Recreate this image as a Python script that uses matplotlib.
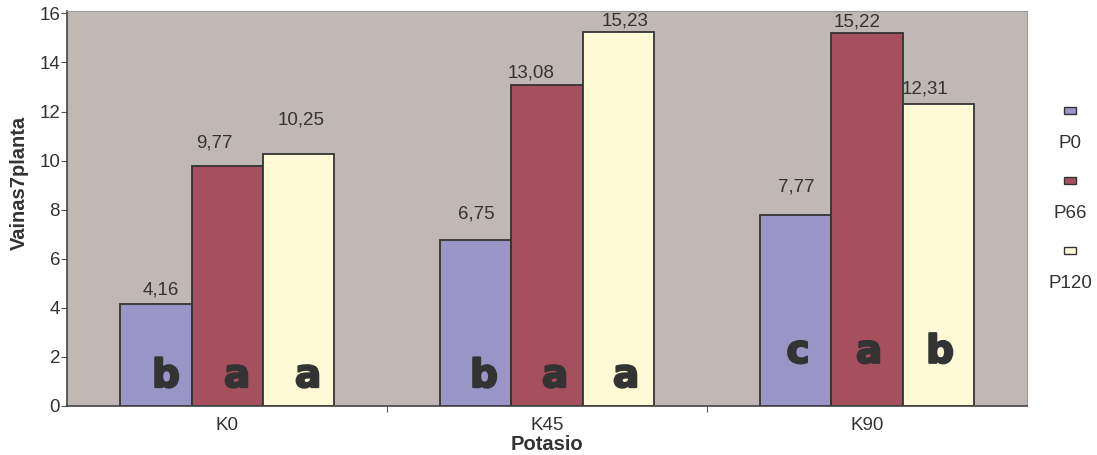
import matplotlib.pyplot as plt
import matplotlib.patheffects as pe
from matplotlib.patches import Rectangle
import numpy as np

plt.rcParams['font.family'] = ['Liberation Sans', 'DejaVu Sans']

# Vainas por planta según dosis de potasio y fósforo
potasio = ['K0', 'K45', 'K90']
series = ['P0', 'P66', 'P120']
p0 = [4.16, 6.75, 7.77]
p66 = [9.77, 13.08, 15.22]
p120 = [10.25, 15.23, 12.31]
valores = [p0, p66, p120]
etiquetas = [['4,16', '6,75', '7,77'],
             ['9,77', '13,08', '15,22'],
             ['10,25', '15,23', '12,31']]
# letras de comparación de medias (Tukey)
letras = [['b', 'b', 'c'],
          ['a', 'a', 'a'],
          ['a', 'a', 'b']]

colores = ['#9A95C7', '#A6505F', '#FFF9D5']
fondo = '#C0B8B5'
borde = '#333333'

# desplazamientos de las etiquetas (pixeles) respecto a la parte superior de la barra
lab_dx = [[5, 0, 0], [-13, -16, -10], [3, 7, -13]]
lab_dy = [[14, 26, 28], [23, 12, 11], [34, 11, 15]]
letra_y = [0.76, 0.76, 1.75]
letra_dx = [10, 8, 2]

fig = plt.figure(figsize=(10.97, 4.55), dpi=100)
ax = fig.add_axes([0.0611, 0.1084, 0.8751, 0.8674])
ax.set_facecolor(fondo)

x = np.arange(len(potasio))
w = 0.222
for i, (vals, col) in enumerate(zip(valores, colores)):
    pos = x + (i - 1) * w
    ax.bar(pos, vals, width=w, color=col, edgecolor=borde, linewidth=1.3, zorder=2)
    for j in range(len(potasio)):
        ax.annotate(etiquetas[i][j], (pos[j], vals[j]),
                    xytext=(lab_dx[i][j], lab_dy[i][j]), textcoords='offset pixels',
                    ha='center', va='center', fontsize=13.5, color='#333333', zorder=3)
        ax.annotate(letras[i][j], (pos[j], letra_y[j]),
                    xytext=(letra_dx[j], 0), textcoords='offset pixels',
                    ha='center', va='baseline', fontsize=28, fontweight='bold',
                    family='DejaVu Sans', color='#333333', zorder=3,
                    path_effects=[pe.withStroke(linewidth=1.6, foreground='#333333')])

ax.set_xlim(-0.5, 2.5)
ax.set_ylim(0, 16.1)
ax.set_yticks(np.arange(0, 17, 2))
ax.tick_params(axis='y', labelsize=13.5, length=4, color='#555555', labelcolor='#333333', pad=1)

# marcas entre categorías, etiquetas centradas
ax.set_xticks([0.5, 1.5])
ax.set_xticklabels([])
ax.set_xticks(x, minor=True)
ax.set_xticklabels(potasio, minor=True)
ax.tick_params(axis='x', which='major', length=4, color='#555555')
ax.tick_params(axis='x', which='minor', length=0, labelsize=13.5, labelcolor='#333333', pad=8)

for s in ['top', 'right']:
    ax.spines[s].set_color('#9A9A9A')
for s in ['left', 'bottom']:
    ax.spines[s].set_color('#444444')
    ax.spines[s].set_linewidth(1.2)

ax.set_ylabel('Vainas7planta', fontsize=14.5, fontweight='bold', color='#333333')
ax.yaxis.set_label_coords(-0.040, 0.565)
ax.set_xlabel('Potasio', fontsize=14.5, fontweight='bold', color='#333333', labelpad=1)

# leyenda: cuadro de color sobre el nombre de la serie
W, H = 1097, 455
leg_y = [110, 180, 250]
for nombre, col, yy in zip(series, colores, leg_y):
    fig.add_artist(Rectangle(((1064) / W, (H - yy - 4) / H), 12 / W, 7 / H,
                             transform=fig.transFigure, facecolor=col,
                             edgecolor=borde, linewidth=1.0))
    fig.text(1070 / W, (H - yy - 33) / H, nombre, ha='center', va='center',
             fontsize=13.5, color='#333333')

fig.savefig('out.png', dpi=100)
